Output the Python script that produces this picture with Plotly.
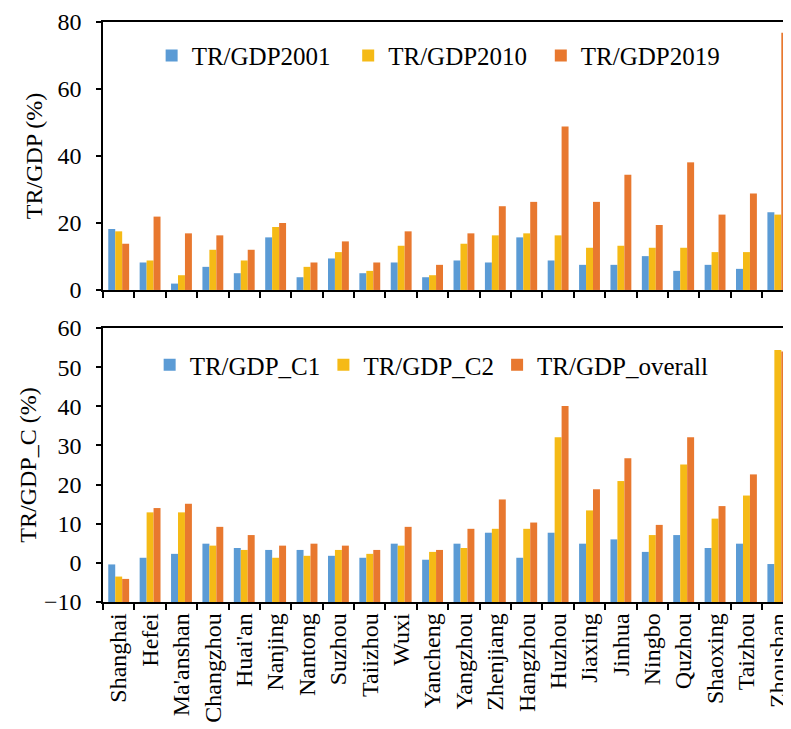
import plotly.graph_objects as go

cities = ["Shanghai", "Hefei", "Ma'anshan", "Changzhou", "Huai'an", "Nanjing", "Nantong",
          "Suzhou", "Taiizhou", "Wuxi", "Yancheng", "Yangzhou", "Zhenjiang", "Hangzhou",
          "Huzhou", "Jiaxing", "Jinhua", "Ningbo", "Quzhou", "Shaoxing", "Taizhou", "Zhoushan"]

tr_gdp_2001 = [18.2, 8.2, 1.9, 6.9, 5.0, 15.7, 3.8, 9.4, 5.0, 8.2, 3.8,
               8.8, 8.2, 15.7, 8.8, 7.5, 7.5, 10.1, 5.7, 7.5, 6.3, 23.2]
tr_gdp_2010 = [17.5, 8.8, 4.4, 12.0, 8.8, 18.8, 6.9, 11.3, 5.7, 13.2, 4.4,
               13.8, 16.3, 16.9, 16.3, 12.6, 13.2, 12.6, 12.6, 11.3, 11.3, 22.5]
tr_gdp_2019 = [13.8, 21.9, 16.9, 16.3, 12.0, 20.0, 8.2, 14.5, 8.2, 17.5, 7.5,
               16.9, 25.0, 26.3, 48.8, 26.3, 34.4, 19.4, 38.1, 22.5, 28.8, 76.8]

tr_gdp_c1 = [-0.4, 1.3, 2.3, 4.9, 3.8, 3.3, 3.3, 1.8, 1.3, 4.9, 0.8,
             4.9, 7.7, 1.3, 7.7, 4.9, 6.0, 2.8, 7.1, 3.8, 4.9, -0.3]
tr_gdp_c2 = [-3.5, 12.9, 12.9, 4.4, 3.3, 1.3, 1.8, 3.3, 2.3, 4.4, 2.8,
             3.8, 8.7, 8.7, 32.1, 13.4, 20.9, 7.1, 25.1, 11.3, 17.2, 54.4]
tr_gdp_overall = [-4.1, 14.0, 15.1, 9.2, 7.1, 4.4, 4.9, 4.4, 3.3, 9.2, 3.3,
                  8.7, 16.2, 10.3, 40.1, 18.8, 26.7, 9.7, 32.1, 14.5, 22.6, 54.0]

BLUE = "#5B9BD5"
GOLD = "#F5BA16"
ORANGE = "#E8782F"
FONT = "Liberation Serif"
BOTTOM_BASE = -10

fig = go.Figure()

top_series = [("TR/GDP2001", tr_gdp_2001, BLUE, "legend"),
              ("TR/GDP2010", tr_gdp_2010, GOLD, "legend2"),
              ("TR/GDP2019", tr_gdp_2019, ORANGE, "legend3")]
bottom_series = [("TR/GDP_C1", tr_gdp_c1, BLUE, "legend4"),
                 ("TR/GDP_C2", tr_gdp_c2, GOLD, "legend5"),
                 ("TR/GDP_overall", tr_gdp_overall, ORANGE, "legend6")]

for name, vals, col, lg in top_series:
    fig.add_trace(go.Bar(x=cities, y=vals, name=name, marker_color=col,
                         marker_line_width=0, xaxis="x", yaxis="y", legend=lg,
                         showlegend=True))

for name, vals, col, lg in bottom_series:
    fig.add_trace(go.Bar(x=cities, y=[v - BOTTOM_BASE for v in vals], base=BOTTOM_BASE,
                         name=name, marker_color=col, marker_line_width=0,
                         xaxis="x2", yaxis="y2", legend=lg, showlegend=True))

xr = [-0.5, 21.26]
axis_common = dict(showline=True, linecolor="black", linewidth=1.5, showgrid=False,
                   ticks="outside", tickcolor="black", tickwidth=1.5,
                   tickfont=dict(family=FONT, size=24, color="black"))

def leg(x, y):
    return dict(orientation="h", x=x, xanchor="left", y=y, yanchor="middle",
                bgcolor="rgba(0,0,0,0)",
                font=dict(family=FONT, size=25, color="black"))

fig.update_layout(
    width=783, height=721,
    margin=dict(l=95, r=0, t=14, b=127),
    paper_bgcolor="white", plot_bgcolor="white",
    showlegend=True,
    barmode="group", bargap=0.335, bargroupgap=0,
    font=dict(family=FONT, size=24, color="black"),
    xaxis=dict(axis_common, domain=[0, 1], range=xr, anchor="y", showticklabels=False,
               tickson="boundaries", ticklen=6, mirror=True),
    xaxis2=dict(axis_common, domain=[0, 1], range=xr, anchor="y2", tickangle=-90,
                tickson="boundaries", ticklen=6, mirror=True),
    yaxis=dict(axis_common, domain=[0.538, 1], range=[0, 80], dtick=20, ticklen=5,
               zeroline=False, ticklabelstandoff=10,
               title=dict(text="TR/GDP (%)", font=dict(family=FONT, size=24), standoff=8)),
    yaxis2=dict(axis_common, domain=[0, 0.4724], range=[-10, 60], dtick=10, ticklen=5,
                zeroline=False, ticklabelstandoff=10,
                title=dict(text="TR/GDP_C (%)", font=dict(family=FONT, size=24), standoff=0)),
    legend=leg(0.0712, 0.942),
    legend2=leg(0.3590, 0.942),
    legend3=leg(0.6410, 0.942),
    legend4=leg(0.0683, 0.4086),
    legend5=leg(0.3227, 0.4086),
    legend6=leg(0.5770, 0.4086),
)

fig.write_html("out.html")
